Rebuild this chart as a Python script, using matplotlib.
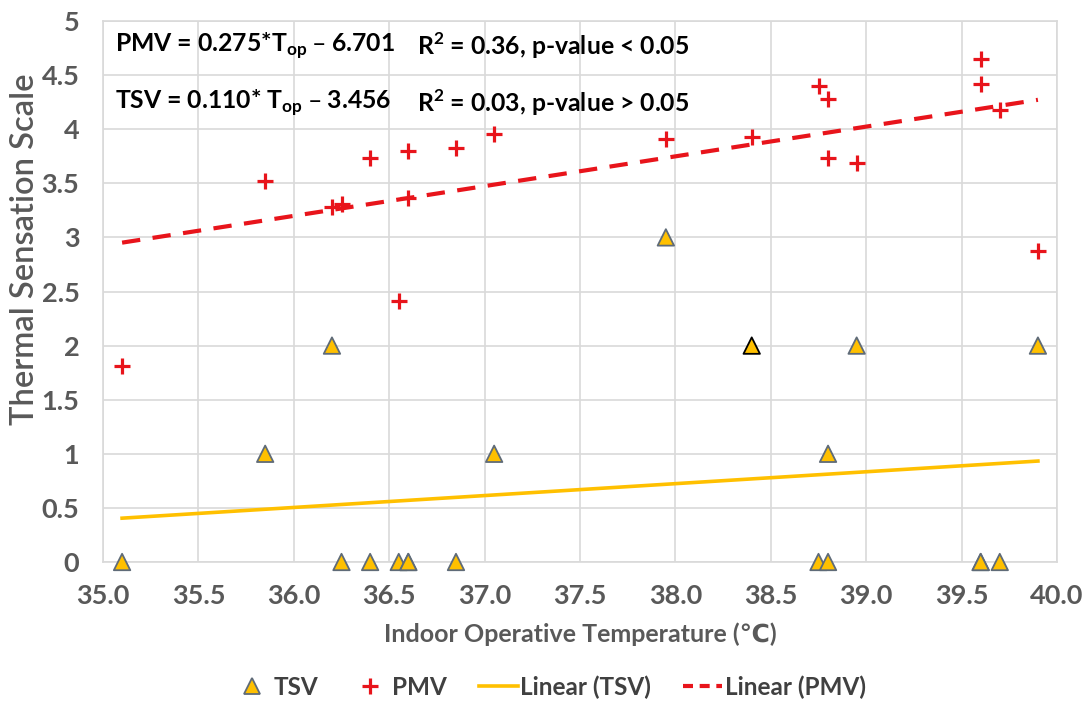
import matplotlib
matplotlib.use("Agg")
import matplotlib.pyplot as plt
from matplotlib.lines import Line2D
import numpy as np

# ---- data ----
pmv_t = [35.1, 35.85, 36.2, 36.25, 36.4, 36.6, 36.6, 36.55, 36.85, 37.05,
         37.95, 38.4, 38.75, 38.8, 38.8, 38.95, 39.6, 39.6, 39.7, 39.9]
pmv_v = [1.81, 3.52, 3.28, 3.31, 3.73, 3.80, 3.36, 2.41, 3.83, 3.96,
         3.91, 3.93, 4.40, 4.28, 3.73, 3.69, 4.65, 4.42, 4.18, 2.87]
tsv_t = [35.1, 35.85, 36.2, 36.25, 36.4, 36.55, 36.6, 36.6, 36.85, 37.05,
         37.95, 38.4, 38.75, 38.8, 38.8, 38.95, 39.6, 39.6, 39.7, 39.9]
tsv_v = [0, 1, 2, 0, 0, 0, 0, 0, 0, 1,
         3, 2, 0, 0, 1, 2, 0, 0, 0, 2]
pmv_fit = (0.275, -6.701)
tsv_fit = (0.110, -3.456)
x_ticks = [35.0, 35.5, 36.0, 36.5, 37.0, 37.5, 38.0, 38.5, 39.0, 39.5, 40.0]
y_ticks = [0, 0.5, 1, 1.5, 2, 2.5, 3, 3.5, 4, 4.5, 5]

plt.rcParams['font.family'] = ['Lato', 'DejaVu Sans']
plt.rcParams['mathtext.default'] = 'bf'

fig = plt.figure(figsize=(10.86, 7.04), dpi=100)
ax = fig.add_axes([103/1086, 1-562/704, (1057-103)/1086, (562-21)/704])

gold = '#FFC000'
red = '#E8141B'
grey_txt = '#595959'
grid_c = '#D9D9D9'
tri_edge = '#5F6B78'

xr = np.array([min(tsv_t), max(tsv_t)])
ax.plot(xr, tsv_fit[0]*xr + tsv_fit[1], color=gold, lw=2.6, zorder=2)
xp = np.array([min(pmv_t), max(pmv_t)])
ax.plot(xp, pmv_fit[0]*xp + pmv_fit[1], color=red, lw=3.0, ls=(0, (4.4, 3.0)), zorder=2)

edges = [tri_edge] * len(tsv_t)
edges[11] = '#000000'
ax.scatter(tsv_t, tsv_v, marker='^', s=140, c=gold, edgecolors=edges, linewidths=1.3,
           zorder=4, clip_on=False)
ax.scatter(pmv_t, pmv_v, marker='+', s=120, c=red, linewidths=2.3, zorder=5, clip_on=False)

ax.set_xlim(35.0, 40.0)
ax.set_ylim(0, 5)
ax.set_xticks(x_ticks)
ax.set_xticklabels([f"{v:.1f}" for v in x_ticks])
ax.set_yticks(y_ticks)
ax.set_yticklabels([f"{v:g}" for v in y_ticks])
ax.grid(True, color=grid_c, lw=1.2)
ax.set_axisbelow(True)
for s in ax.spines.values():
    s.set_color(grid_c)
    s.set_linewidth(1.2)
ax.tick_params(length=0, labelsize=19.5, labelcolor=grey_txt)
ax.tick_params(axis='x', pad=16)
ax.tick_params(axis='y', pad=17)
for lab in ax.get_xticklabels() + ax.get_yticklabels():
    lab.set_fontweight('bold')

ax.set_xlabel("Indoor Operative Temperature (\u2103)", fontsize=18, color=grey_txt,
              fontweight='bold', va='center')
ax.xaxis.set_label_coords(0.5, (562-634)/541)
ax.set_ylabel("Thermal Sensation Scale", fontsize=23.5, color=grey_txt,
              fontweight='semibold', va='center')
ax.yaxis.set_label_coords((25-103)/954, (562-249)/541)

txt_kw = dict(fontsize=17.8, fontweight='bold', color='black', va='center', ha='left')
ax.text(35.063, 4.77, r"PMV = 0.275*T$_{\mathregular{op}}$ – 6.701", **txt_kw)
ax.text(36.646, 4.77, r"R$^{\mathregular{2}}$ = 0.36, p-value < 0.05", **txt_kw)
ax.text(35.063, 4.24, r"TSV = 0.110* T$_{\mathregular{op}}$ – 3.456", **txt_kw)
ax.text(36.646, 4.24, r"R$^{\mathregular{2}}$ = 0.03, p-value > 0.05", **txt_kw)

handles = [
    Line2D([], [], ls='none', marker='^', ms=12, mfc=gold, mec=tri_edge, mew=1.3),
    Line2D([], [], ls='none', marker='+', ms=11, mec=red, mew=2.3),
    Line2D([], [], color=gold, lw=2.6),
    Line2D([], [], color=red, lw=3.0, ls=(0, (2.4, 1.6))),
]
labels = ["TSV", "PMV", "Linear (TSV)", "Linear (PMV)"]
leg = fig.legend(handles, labels, loc='center', bbox_to_anchor=(549/1086, 1-687/704), ncol=4,
                 frameon=False, fontsize=17.5, handlelength=1.6, handletextpad=0.12,
                 columnspacing=1.3, borderpad=0)
for t in leg.get_texts():
    t.set_fontweight('bold')
    t.set_color('#404040')

fig.savefig("out.png", dpi=100, facecolor='white')
